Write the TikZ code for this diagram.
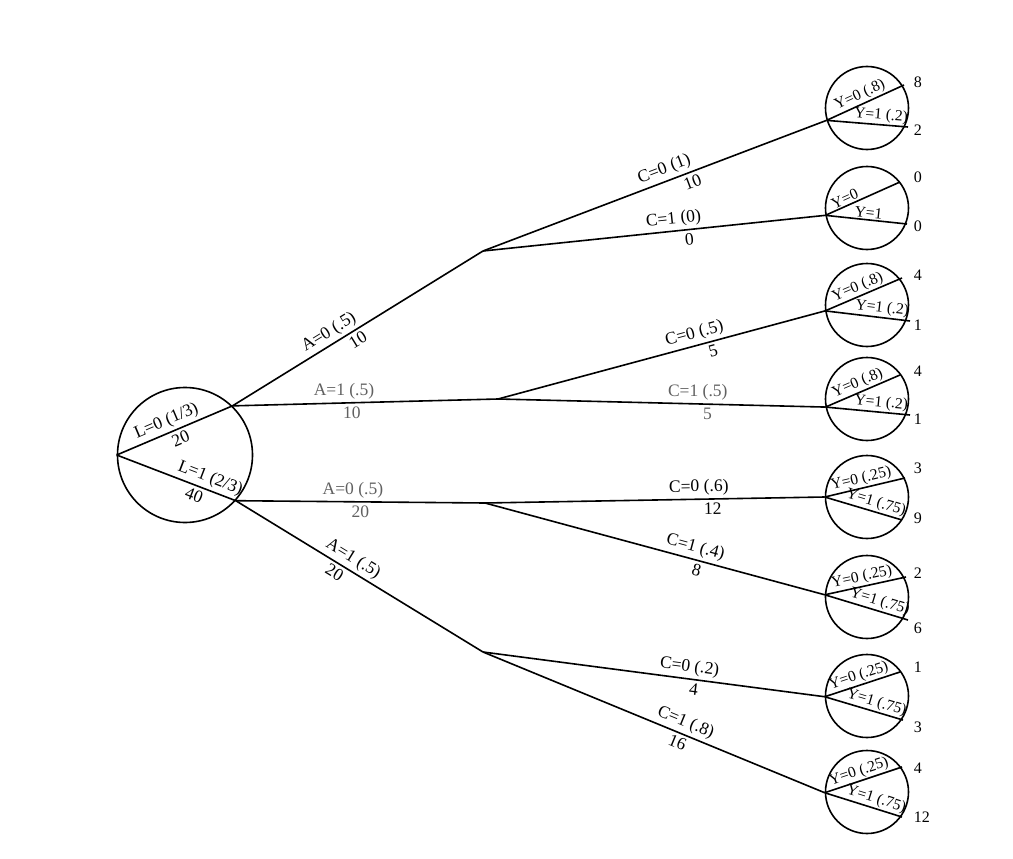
\documentclass[tikz,border=0pt]{standalone}
\usepackage{fontspec}
\setmainfont{Liberation Serif}
\usetikzlibrary{calc}
\definecolor{graylab}{gray}{0.38}
\begin{document}
\begin{tikzpicture}[x=1pt,y=-1pt,line width=1.6pt,
  lab/.style={font=\fontsize{17.5}{19}\selectfont, sloped, inner sep=3pt},
  glab/.style={font=\fontsize{17.5}{19}\selectfont, text=graylab, inner sep=3pt},
  ylab/.style={font=\fontsize{15.5}{17}\selectfont, sloped, inner sep=1.2pt},
  num/.style={font=\fontsize{16}{18}\selectfont, anchor=west, inner sep=0pt},
  bignode/.style={circle, draw, minimum size=135pt, inner sep=0pt},
  leafnode/.style={circle, draw, minimum size=83pt, inner sep=0pt}]
\useasboundingbox[fill=white] (0,0) rectangle (1013,859);
% root
\node[bignode] (root) at (185,455) {};
\coordinate (l0) at (root.46);
\coordinate (l1) at (root.-42);
% branch points
\coordinate (b1) at (483,251);
\coordinate (b2) at (498,399);
\coordinate (b3) at (485,503);
\coordinate (b4) at (483,652);
% leaves
\foreach \i/\cy/\ea/\ux/\uy/\dx/\dy/\pu/\pd/\ua/\da/\un/\dn/\nu/\nd in {
  1/108/197/37/-23/41/19/.48/.66/{Y=0 (.8)}/{Y=1 (.2)}/8/2/-26/22,
  2/208/190/33/-26/40/16/.30/.52/{Y=0}/{Y=1}/0/0/-31/18,
  3/305/188/35/-27/43/16/.47/.66/{Y=0 (.8)}/{Y=1 (.2)}/4/1/-30/20,
  4/399/191/33/-24/43/16/.48/.65/{Y=0 (.8)}/{Y=1 (.2)}/4/1/-28/20,
  5/497/180/38/-19/35/23/.48/.63/{Y=0 (.25)}/{Y=1 (.75)}/3/9/-29/21,
  6/597/177/39/-20/41/23/.48/.63/{Y=0 (.25)}/{Y=1 (.75)}/2/6/-24/31,
  7/696/181/33/-24/36/24/.49/.63/{Y=0 (.25)}/{Y=1 (.75)}/1/3/-29/31,
  8/792/181/35/-25/35/25/.48/.63/{Y=0 (.25)}/{Y=1 (.75)}/4/12/-24/25}{
  \node[leafnode] (y\i) at (867,\cy) {};
  \coordinate (u\i) at ($(y\i.center)+(\ux,\uy)$);
  \coordinate (d\i) at ($(y\i.center)+(\dx,\dy)$);
  \draw (y\i.\ea) -- node[ylab,above,pos=\pu] (yu\i) {\ua} (u\i);
  \draw (y\i.\ea) -- node[ylab,above,pos=\pd] (yd\i) {\da} (d\i);
  \node[num] (nu\i) at ($(y\i.center)+(46,\nu)$) {\un};
  \node[num] (nd\i) at ($(y\i.center)+(46,\nd)$) {\dn};
}
% L branches
\draw (root.west) -- node[lab,above,pos=.47] (tl0) {L=0 (1/3)} node[lab,below,pos=.52] (vl0) {20} (l0);
\draw (root.west) -- node[lab,above,pos=.75] (tl1) {L=1 (2/3)} node[lab,below,pos=.68] (vl1) {40} (l1);
% A branches
\draw (l0) -- node[lab,above,pos=.41] (ta1) {A=0 (.5)} node[lab,below,pos=.48] (va1) {10} (b1);
\draw (l0) -- node[glab,above,pos=.42] (ta2) {A=1 (.5)} node[glab,below,pos=.45] (va2) {10} (b2);
\draw (l1) -- node[glab,above,pos=.47] (ta3) {A=0 (.5)} node[glab,below,pos=.50] (va3) {20} (b3);
\draw (l1) -- node[lab,above,pos=.45] (ta4) {A=1 (.5)} node[lab,below,pos=.42] (va4) {20} (b4);
% C branches
\draw (b1) -- node[lab,above,pos=.54] (tc1) {C=0 (1)} node[lab,below,pos=.60] (vc1) {10} (y1.197);
\draw (b1) -- node[lab,above,pos=.56] (tc2) {C=1 (0)} node[lab,below,pos=.60] (vc2) {0} (y2.190);
\draw (b2) -- node[lab,above,pos=.61] (tc3) {C=0 (.5)} node[lab,below,pos=.65] (vc3) {5} (y3.188);
\draw (b2) -- node[glab,above,pos=.61] (tc4) {C=1 (.5)} node[glab,below,pos=.64] (vc4) {5} (y4.191);
\draw (b3) -- node[lab,above,pos=.63] (tc5) {C=0 (.6)} node[lab,below,pos=.67] (vc5) {12} (y5.180);
\draw (b3) -- node[lab,above,pos=.61] (tc6) {C=1 (.4)} node[lab,below,pos=.63] (vc6) {8} (y6.177);
\draw (b4) -- node[lab,above,pos=.60] (tc7) {C=0 (.2)} node[lab,below,pos=.62] (vc7) {4} (y7.181);
\draw (b4) -- node[lab,above,pos=.58] (tc8) {C=1 (.8)} node[lab,below,pos=.58] (vc8) {16} (y8.181);
\end{tikzpicture}
\end{document}
